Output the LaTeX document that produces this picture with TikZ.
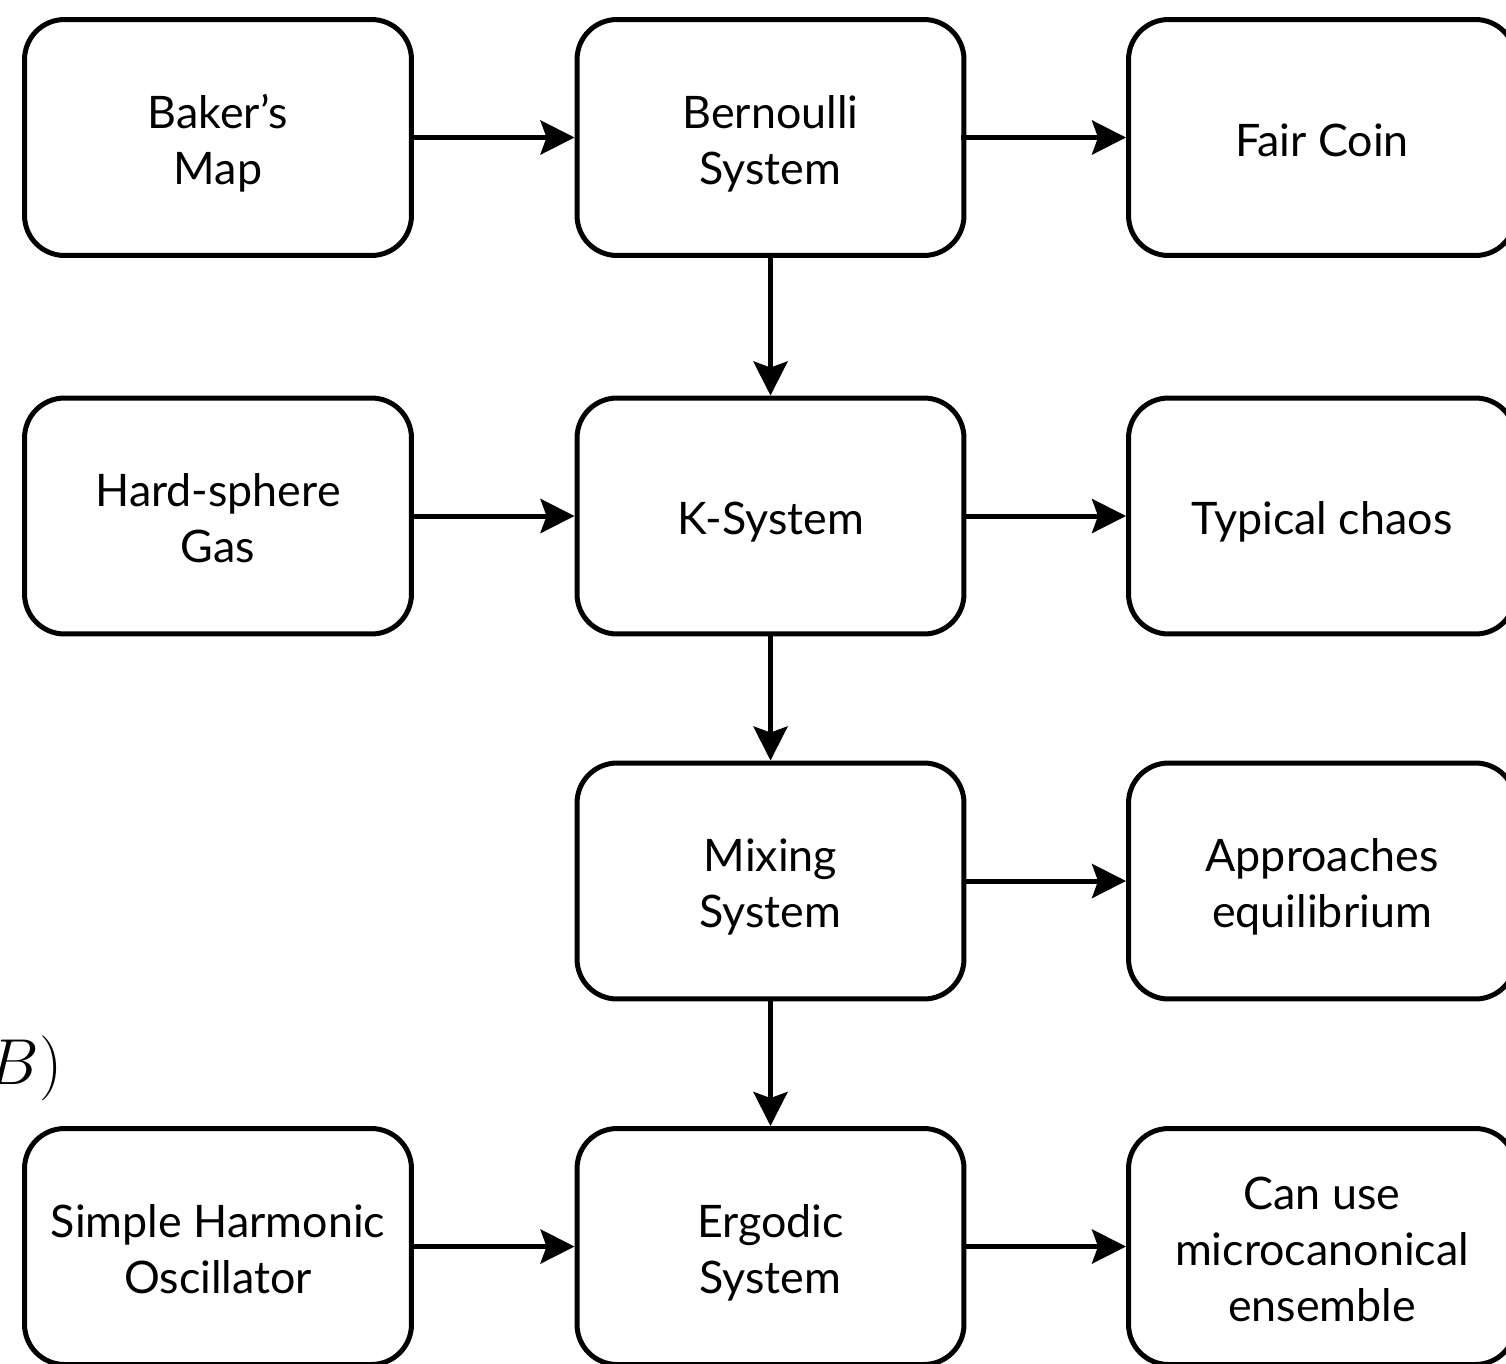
\RequirePackage{fix-cm}
\documentclass[tikz,border=0pt]{standalone}
\usepackage{fontspec}
\setmainfont{Lato}
\usetikzlibrary{positioning,arrows.meta}
\tikzstyle{chart} = [x = 0.02cm, y = -0.02cm]
\tikzstyle{boxStyle} = [draw=black, line width=0.1cm, rounded corners=0.8cm, minimum width=7.74cm, minimum height=4.72cm, align=center, font=\fontsize{25.5}{32}\selectfont]
\tikzstyle{arrowStyle} = [line width=0.1cm, -{Stealth[length=0.68cm, width=0.68cm, inset=0.12cm]}]
\tikzstyle{labelStyle} = [anchor=east, inner sep=0pt, font=\fontsize{37}{40}\selectfont]
\newcommand{\textDrop}{0.15cm}
\newcommand{\chartBox}[4]{\node [boxStyle] (#1) at (#2, #3) {\raisebox{-\textDrop}[\height][\depth]{\begin{tabular}{@{}c@{}}#4\end{tabular}}};}

\begin{document}
\begin{tikzpicture}[chart]
\useasboundingbox (0,0) rectangle (1506,1363);
\clip (0,0) rectangle (1506,1363);
% first row
\chartBox{bakers}{218}{137.5}{Baker’s\\Map}
\chartBox{bernoulli}{770.5}{137.5}{Bernoulli\\System}
\chartBox{coin}{1322}{137.5}{Fair Coin}
% second row
\chartBox{gas}{218}{516}{Hard-sphere\\Gas}
\chartBox{ksystem}{770.5}{516}{K-System}
\chartBox{chaos}{1322}{516}{Typical chaos}
% third row
\chartBox{mixing}{770.5}{881}{Mixing\\System}
\chartBox{equilibrium}{1322}{881}{Approaches\\equilibrium}
% fourth row
\chartBox{oscillator}{218}{1246.5}{Simple Harmonic\\Oscillator}
\chartBox{ergodic}{770.5}{1246.5}{Ergodic\\System}
\chartBox{ensemble}{1322}{1246.5}{Can use\\microcanonical\\ensemble}
\node [labelStyle] (tag) at (63, 1068) {$(B)$};
% arrows
\draw [arrowStyle] (bakers) -- (bernoulli);
\draw [arrowStyle] ([xshift=-0.1cm]bernoulli.east) -- (coin);
\draw [arrowStyle] (bernoulli) -- (ksystem);
\draw [arrowStyle] (gas) -- (ksystem);
\draw [arrowStyle] (ksystem) -- (chaos);
\draw [arrowStyle] (ksystem) -- (mixing);
\draw [arrowStyle] (mixing) -- (equilibrium);
\draw [arrowStyle] (mixing) -- (ergodic);
\draw [arrowStyle] (oscillator) -- (ergodic);
\draw [arrowStyle] (ergodic) -- (ensemble);
\end{tikzpicture}
\end{document}
